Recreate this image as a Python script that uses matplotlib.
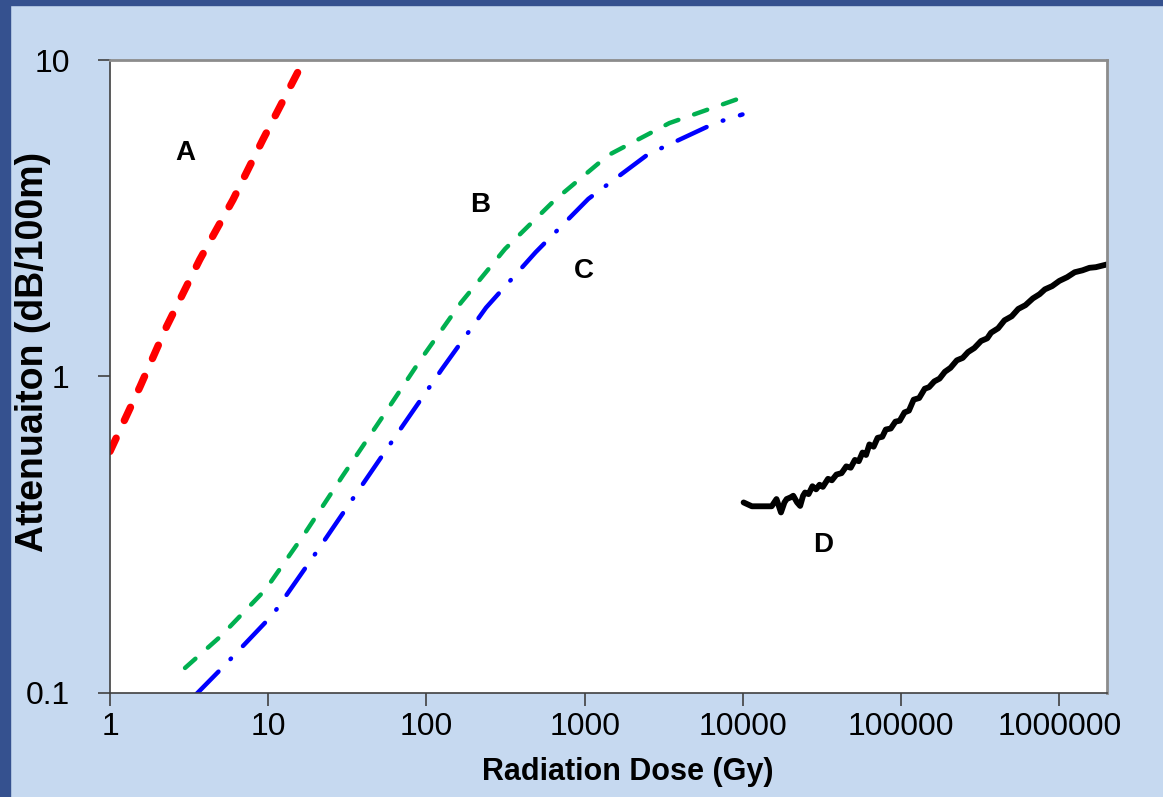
import numpy as np
import matplotlib.pyplot as plt
from matplotlib.patches import Rectangle

plt.rcParams['lines.scale_dashes'] = False

# curve A (red)
a_dose = [1.0, 1.55, 2.28, 3.69, 5.99, 9.26, 17.2]
a_att = [0.58, 0.93, 1.44, 2.34, 3.62, 5.61, 10.2]

# curve B (green)
b_dose = [2.98, 5.0, 9.59, 17.0, 29.6, 53.0, 92.4, 165, 314, 647, 1406, 3430, 9940]
b_att = [0.12, 0.151, 0.212, 0.319, 0.486, 0.748, 1.135, 1.71, 2.53, 3.61, 5.0, 6.32, 7.62]

# curve C (blue)
c_dose = [3.5, 5.11, 10.7, 20.1, 37.0, 68.2, 126, 238, 490, 1054, 2506, 6670, 9940]
c_att = [0.099, 0.120, 0.177, 0.278, 0.435, 0.680, 1.06, 1.65, 2.47, 3.64, 5.03, 6.32, 6.73]

# curve D (black, measured)
d_dose = [10100, 11400, 13000, 15200, 16300, 17400, 18300, 18900, 20000, 20800,
          22000, 23000, 24000, 24700, 26000, 27500, 29000, 30500, 32000, 34500,
          36500, 39000, 42000, 45000, 48000, 51000, 54000, 57000, 60000, 63000,
          67000, 71000, 76000, 80000, 86000, 92000, 98000, 105000, 112000, 120000,
          130000, 141000, 150000, 162000, 175000, 189000, 205000, 225000, 245000, 265000,
          290000, 320000, 350000, 370000, 410000, 450000, 500000, 550000, 610000, 680000,
          750000, 810000, 900000, 1000000, 1120000, 1250000, 1400000, 1550000, 1700000, 2000000]
d_att = [0.40, 0.389, 0.389, 0.389, 0.41, 0.372, 0.40, 0.41, 0.415, 0.42,
         0.40, 0.39, 0.42, 0.43, 0.425, 0.45, 0.44, 0.455, 0.448, 0.475,
         0.47, 0.49, 0.495, 0.52, 0.515, 0.545, 0.54, 0.575, 0.565, 0.61,
         0.60, 0.64, 0.645, 0.68, 0.685, 0.72, 0.725, 0.77, 0.78, 0.845,
         0.855, 0.915, 0.925, 0.965, 0.985, 1.035, 1.065, 1.125, 1.145, 1.195,
         1.23, 1.295, 1.32, 1.375, 1.42, 1.505, 1.55, 1.635, 1.68, 1.765,
         1.82, 1.885, 1.93, 2.005, 2.06, 2.135, 2.165, 2.205, 2.215, 2.26]

xticks = [1, 10, 100, 1000, 10000, 100000, 1000000]
xticklabels = ["1", "10", "100", "1000", "10000", "100000", "1000000"]
yticks = [0.1, 1, 10]
yticklabels = ["0.1", "1", "10"]

curve_labels = ["A", "B", "C", "D"]
label_x = [3.01, 218, 989, 32200]
label_y = [5.1, 3.49, 2.15, 0.294]

fig = plt.figure(figsize=(11.63, 7.97), dpi=100)
fig.patch.set_facecolor('#c6d9f0')

# dark slide border on left and top
fig.patches.append(Rectangle((0, 0), 10 / 1163, 1, transform=fig.transFigure,
                             color='#35518f', zorder=0))
fig.patches.append(Rectangle((0, 1 - 5 / 797), 1, 5 / 797, transform=fig.transFigure,
                             color='#35518f', zorder=0))

ax = fig.add_axes([110 / 1163, 1 - 693 / 797, 997 / 1163, 633 / 797])
ax.set_facecolor('white')

ax.set_xscale('log')
ax.set_yscale('log')
ax.set_xlim(1, 2e6)
ax.set_ylim(0.1, 10)

la, = ax.plot(a_dose, a_att, color='#ff0000', lw=5.3, dash_capstyle='round')
la.set_dashes((10.5, 14))
lb, = ax.plot(b_dose, b_att, color='#00b050', lw=3.2, dash_capstyle='round')
lb.set_dashes((10, 12))
lc, = ax.plot(c_dose, c_att, color='#0000ff', lw=3.2, dash_capstyle='round')
lc.set_dashes((23, 12.5, 0.5, 12.5))
ax.plot(d_dose, d_att, color='black', lw=4.2, solid_joinstyle='round',
        solid_capstyle='round')

for lab, lx, ly in zip(curve_labels, label_x, label_y):
    ax.text(lx, ly, lab, ha='center', va='center', fontsize=20,
            fontweight='bold', family='Liberation Sans')

ax.set_xticks(xticks)
ax.set_xticklabels(xticklabels)
ax.set_yticks(yticks)
ax.set_yticklabels(yticklabels)
ax.minorticks_off()
ax.tick_params(direction='out', length=9, width=1.2, color='#404040',
               labelsize=23, top=False, right=False)
ax.tick_params(axis='x', pad=5)
ax.tick_params(axis='y', pad=20)
for t in ax.get_xticklabels() + ax.get_yticklabels():
    t.set_family('Liberation Sans')

ax.set_xlabel("Radiation Dose (Gy)", fontsize=22, fontweight='bold',
              family='Liberation Sans', va='center')
ax.set_ylabel("Attenuaiton (dB/100m)", fontsize=27, fontweight='bold',
              family='Liberation Sans', va='center')
ax.xaxis.set_label_coords(0.5196, -0.1248)
ax.yaxis.set_label_coords(-0.0772, 0.539)

ax.spines['left'].set_color('#404040')
ax.spines['bottom'].set_color('#404040')
ax.spines['left'].set_linewidth(1.2)
ax.spines['bottom'].set_linewidth(1.2)
ax.spines['top'].set_color('#8c8c8c')
ax.spines['right'].set_color('#8c8c8c')
ax.spines['top'].set_linewidth(2)
ax.spines['right'].set_linewidth(2)

fig.savefig("out.png", dpi=100, facecolor=fig.get_facecolor())
